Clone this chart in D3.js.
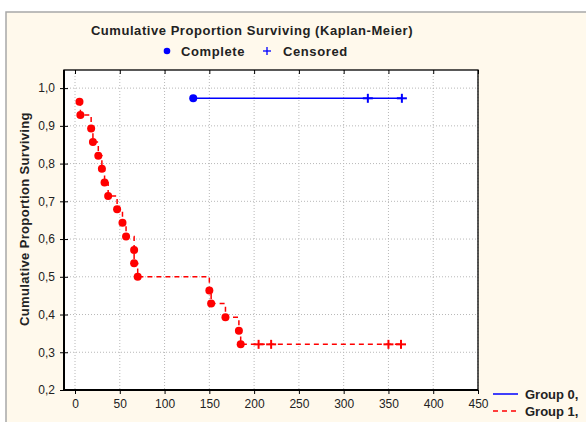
<!DOCTYPE html>
<html><head><meta charset="utf-8">
<script src="https://cdn.jsdelivr.net/npm/d3@7"></script>
<style>
html,body{margin:0;padding:0;background:#fff;}
svg{display:block;font-family:"Liberation Sans",Arial,sans-serif;}
</style></head>
<body>
<svg id="c" width="586" height="422"></svg>
<script>
// ---- data ----
const xTicks = [0,50,100,150,200,250,300,350,400,450];
const yTicks = [0.2,0.3,0.4,0.5,0.6,0.7,0.8,0.9,1.0];
const group0Times = [132];
const group0Surv = [0.973];
const group0Censored = [327, 365];
const group1Times = [5,6,18,20,26,30,33,37,47,53,57,66,66,70,150,152,168,183,185];
const group1Surv = [0.964,0.929,0.893,0.857,0.821,0.786,0.750,0.714,0.679,0.643,0.607,0.571,0.536,0.500,0.464,0.429,0.393,0.357,0.321];
const group1Censored = [205, 219, 350, 364];
const seriesNames = ["Group 0,", "Group 1,"];

const svg = d3.select("#c");
// frame background
svg.append("rect").attr("x",6).attr("y",12).attr("width",600).attr("height",420)
  .attr("fill","#fff9ec").attr("stroke","#a8a8a8").attr("stroke-width",1.5);

const L=64,R=478,T=70,B=390;
const x = d3.scaleLinear().domain([-12.3,450]).range([L,R]);
const y = d3.scaleLinear().domain([0.2,1.048]).range([B,T]);

svg.append("rect").attr("x",L).attr("y",T).attr("width",R-L).attr("height",B-T).attr("fill","#fff");

// grid
const grid = svg.append("g");
grid.selectAll(".gx").data(xTicks).join("line")
  .attr("x1",d=>x(d)).attr("x2",d=>x(d)).attr("y1",T).attr("y2",B)
  .attr("stroke","#b8b8b8").attr("stroke-dasharray","1,2");
grid.selectAll(".gy").data(yTicks).join("line")
  .attr("y1",d=>y(d)).attr("y2",d=>y(d)).attr("x1",L).attr("x2",R)
  .attr("stroke","#b8b8b8").attr("stroke-dasharray","1,2");

// axes
const fmt = d => d.toFixed(1).replace(".",",");
const ax = svg.append("g").attr("transform",`translate(0,${B})`)
  .call(d3.axisBottom(x).tickValues(xTicks).tickSize(4).tickPadding(5).tickFormat(d3.format("d")));
const ay = svg.append("g").attr("transform",`translate(${L},0)`)
  .call(d3.axisLeft(y).tickValues(yTicks).tickSize(4).tickPadding(5).tickFormat(fmt));
[ax,ay].forEach(a=>{
  a.select(".domain").remove();
  a.selectAll("text").attr("font-size","12px").attr("fill","#222")
    .attr("font-family","'Liberation Sans',Arial,sans-serif");
  a.selectAll("line").attr("stroke","#000");
});
// inner ticks
svg.append("g").attr("transform",`translate(0,${T})`)
  .call(d3.axisBottom(x).tickValues(xTicks).tickSize(4).tickFormat(""))
  .call(g=>{g.select(".domain").remove();g.selectAll("line").attr("stroke","#000");});
svg.append("g").attr("transform",`translate(${L},0)`)
  .call(d3.axisRight(y).tickValues(yTicks).tickSize(4).tickFormat(""))
  .call(g=>{g.select(".domain").remove();g.selectAll("line").attr("stroke","#000");});

svg.append("rect").attr("x",L).attr("y",T).attr("width",R-L).attr("height",B-T)
  .attr("fill","none").attr("stroke","#000").attr("stroke-width",1.3);
svg.append("path").attr("d",`M${L},${T}V${B}H${R}`).attr("fill","none")
  .attr("stroke","#000").attr("stroke-width",2);

// series
const line = d3.line().x(d=>x(d[0])).y(d=>y(d[1])).curve(d3.curveStepAfter);
function drawGroup(times, surv, cens, color, dash){
  const pts = times.map((t,i)=>[t,surv[i]]);
  const last = surv[surv.length-1];
  const end = d3.max([times[times.length-1], ...cens]);
  const path = pts.concat([[end,last]]);
  svg.append("path").attr("d",line(path)).attr("fill","none")
    .attr("stroke",color).attr("stroke-width",1.5).attr("stroke-dasharray",dash);
  svg.append("g").selectAll("circle").data(pts).join("circle")
    .attr("cx",d=>x(d[0])).attr("cy",d=>y(d[1])).attr("r",4).attr("fill",color);
  const cg = svg.append("g").attr("stroke",color).attr("stroke-width",2);
  cens.forEach(c=>{
    cg.append("line").attr("x1",x(c)-5).attr("x2",x(c)+5).attr("y1",y(last)).attr("y2",y(last));
    cg.append("line").attr("x1",x(c)).attr("x2",x(c)).attr("y1",y(last)-4.5).attr("y2",y(last)+4.5);
  });
}
drawGroup(group0Times, group0Surv, group0Censored, "#0000ff", null);
drawGroup(group1Times, group1Surv, group1Censored, "#ff0000", "5,4");

// titles
svg.append("text").attr("x",252).attr("y",35).attr("text-anchor","middle")
  .attr("font-size","13px").attr("font-weight","bold").attr("fill","#222")
  .attr("letter-spacing","0.55px")
  .text("Cumulative Proportion Surviving (Kaplan-Meier)");
svg.append("circle").attr("cx",167).attr("cy",51).attr("r",3.3).attr("fill","#0000ff");
svg.append("text").attr("x",181).attr("y",55.5).attr("font-size","13px").attr("font-weight","bold")
  .attr("letter-spacing","0.6px").attr("fill","#222").text("Complete");
svg.append("g").attr("stroke","#0000ff").attr("stroke-width",1.3)
  .call(g=>{g.append("line").attr("x1",263).attr("x2",271).attr("y1",51).attr("y2",51);
            g.append("line").attr("x1",267).attr("x2",267).attr("y1",47).attr("y2",55);});
svg.append("text").attr("x",283).attr("y",55.5).attr("font-size","13px").attr("font-weight","bold")
  .attr("letter-spacing","0.6px").attr("fill","#222").text("Censored");

svg.append("text").attr("transform","translate(29,219) rotate(-90)").attr("text-anchor","middle")
  .attr("font-size","13px").attr("font-weight","bold").attr("fill","#222")
  .attr("letter-spacing","0.35px")
  .text("Cumulative Proportion Surviving");

// legend
const lg = svg.append("g");
const lc = [["#0000ff",null],["#ff0000","5,4"]];
seriesNames.forEach((n,i)=>{
  const yy = 394 + i*17;
  lg.append("line").attr("x1",493).attr("x2",518).attr("y1",yy).attr("y2",yy)
    .attr("stroke",lc[i][0]).attr("stroke-width",1.5).attr("stroke-dasharray",lc[i][1]);
  lg.append("text").attr("x",525).attr("y",yy+4.5).attr("font-size","13px").attr("font-weight","bold")
    .attr("fill","#222").text(n);
});
</script>
</body></html>
